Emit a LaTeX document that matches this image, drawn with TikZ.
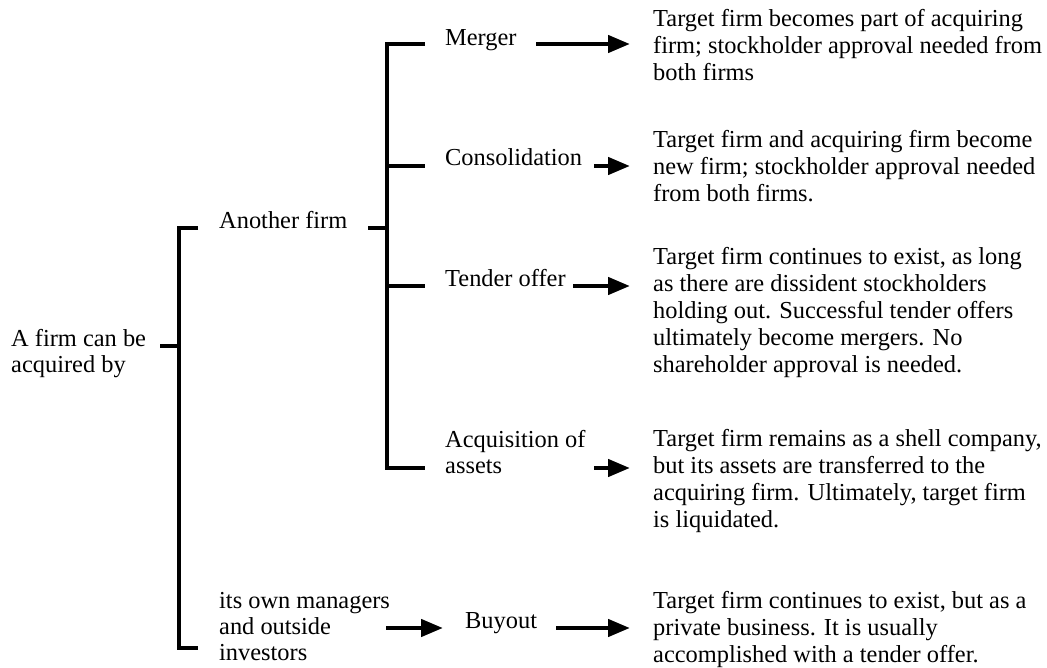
\documentclass[tikz,border=0pt]{standalone}
\usepackage{fontspec}
\setmainfont{Liberation Serif}
\usetikzlibrary{arrows.meta}
\newcommand\mlines[1]{\begin{tabular}[t]{@{}l@{}}#1\end{tabular}}
\begin{document}
\begin{tikzpicture}[x=1pt,y=-1pt,
  txt/.style={anchor=base west, inner sep=0pt, font=\fontsize{24.4}{27}\selectfont},
  lbl/.style={anchor=base west, inner sep=0pt, font=\fontsize{24.4}{26}\selectfont},
  br/.style={line width=3.5pt},
  arr/.style={line width=4.5pt, -{Triangle[length=22pt,width=17pt]}}]
\useasboundingbox (0,0) rectangle (1047,668);

% labels
\node[lbl] (root) at (11,347) {\mlines{A firm can be\\acquired by}};
\node[lbl] (another) at (219,229) {Another firm};
\node[lbl] (own) at (219,608) {\mlines{its own managers\\and outside\\investors}};
\node[lbl] (merger) at (445,46) {Merger};
\node[lbl] (consol) at (445,166) {Consolidation};
\node[lbl] (tender) at (445,287) {Tender offer};
\node[lbl] (acq) at (445,447) {\mlines{Acquisition of\\assets}};
\node[lbl] (buyout) at (465,628) {Buyout};

% descriptions
\node[txt] (d1) at (653,27) {\mlines{Target firm becomes part of acquiring\\firm; stockholder approval needed from\\both firms}};
\node[txt] (d2) at (653,148) {\mlines{Target firm and acquiring firm become\\new firm; stockholder approval needed\\from both firms.}};
\node[txt] (d3) at (653,265) {\mlines{Target firm continues to exist, as long\\as there are dissident stockholders\\holding out. Successful tender offers\\ultimately become mergers. No\\shareholder approval is needed.}};
\node[txt] (d4) at (653,446) {\mlines{Target firm remains as a shell company,\\but its assets are transferred to the\\acquiring firm. Ultimately, target firm\\is liquidated.}};
\node[txt] (d5) at (653,608) {\mlines{Target firm continues to exist, but as a\\private business. It is usually\\accomplished with a tender offer.}};

% junction coordinates
\coordinate (r0) at (160,346);
\coordinate (r1) at (179,346);
\coordinate (rt) at (179,228);
\coordinate (rb) at (179,648);
\coordinate (rta) at (198,228);
\coordinate (rba) at (198,648);

\coordinate (a0) at (368,228);
\coordinate (a1) at (387,228);
\coordinate (v1) at (387,44);
\coordinate (v2) at (387,166);
\coordinate (v3) at (387,286);
\coordinate (v4) at (387,468);
\coordinate (t1) at (425,44);
\coordinate (t2) at (425,166);
\coordinate (t3) at (425,286);
\coordinate (t4) at (425,468);

% brackets
\draw[br] (r0) -- (r1);
\draw[br] (rta) -- (rt) -- (rb) -- (rba);
\draw[br] (a0) -- (a1);
\draw[br] (t1) -- (v1) -- (v4) -- (t4);
\draw[br] (v2) -- (t2);
\draw[br] (v3) -- (t3);

% arrows
\coordinate (m0) at (536,44);   \coordinate (m1) at (630,44);
\coordinate (c0) at (594,166);  \coordinate (c1) at (630,166);
\coordinate (o0) at (573,286);  \coordinate (o1) at (630,286);
\coordinate (q0) at (594,468);  \coordinate (q1) at (630,468);
\coordinate (b0) at (386,628);  \coordinate (b1) at (443,628);
\coordinate (e0) at (556,628);  \coordinate (e1) at (630,628);
\draw[arr] (m0) -- (m1);
\draw[arr] (c0) -- (c1);
\draw[arr] (o0) -- (o1);
\draw[arr] (q0) -- (q1);
\draw[arr] (b0) -- (b1);
\draw[arr] (e0) -- (e1);
\end{tikzpicture}
\end{document}
